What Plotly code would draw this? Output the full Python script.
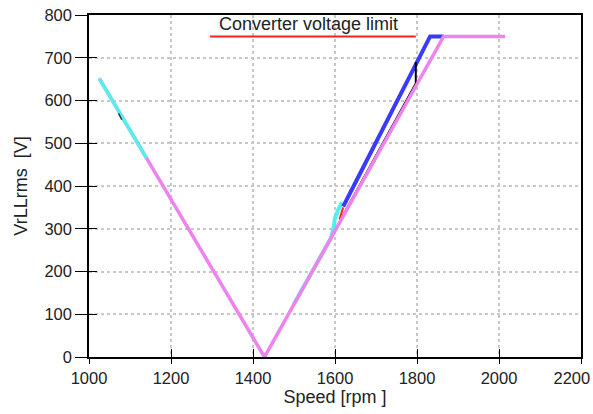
import plotly.graph_objects as go

# data (rpm, V)
mag_x = [1025, 1428, 1865, 2015]
mag_y = [652, 0, 750, 750]
blue_x = [1620, 1832, 1865]
blue_y = [352, 750, 750]
black_x = [1612, 1797, 1797]
black_y = [318, 640, 690]
black2_x = [1072, 1080]
black2_y = [570, 555]
cyan_x = [1025, 1140]
cyan_y = [652, 466]
cyan2_x = [1500, 1590, 1596, 1600, 1608, 1617]
cyan2_y = [124, 278, 300, 325, 345, 362]
red2_x = [1611, 1620]
red2_y = [322, 350]
limit_x = [1295, 1797]
limit_y = [750, 750]
limit_label = "Converter voltage limit"
x_range = [1000, 2200]
y_range = [0, 800]
x_ticks = [1000, 1200, 1400, 1600, 1800, 2000, 2200]
x_ticktext = ["1000", "1200", "1400", "1600", "1800", "2000", "2200\u2007\u2007"]

FONT = "Liberation Sans"
TXT = "#222"

fig = go.Figure()
# limit line drawn on the overlay axes (same ranges) so their inner ticks render
fig.add_trace(go.Scatter(x=limit_x, y=limit_y, mode="lines", xaxis="x2", yaxis="y2",
                         line=dict(color="#ff2020", width=2)))
fig.add_trace(go.Scatter(x=cyan2_x, y=cyan2_y, mode="lines", line=dict(color="#55eeee", width=4)))
fig.add_trace(go.Scatter(x=blue_x, y=blue_y, mode="lines", line=dict(color="#3a3aff", width=4)))
fig.add_trace(go.Scatter(x=red2_x, y=red2_y, mode="lines", line=dict(color="#ff2020", width=2)))
fig.add_trace(go.Scatter(x=black_x, y=black_y, mode="lines", line=dict(color="black", width=2)))
fig.add_trace(go.Scatter(x=mag_x, y=mag_y, mode="lines", line=dict(color="#ee82ee", width=3.5)))
fig.add_trace(go.Scatter(x=cyan_x, y=cyan_y, mode="lines", line=dict(color="#55eeee", width=3.5)))
fig.add_trace(go.Scatter(x=black2_x, y=black2_y, mode="lines", line=dict(color="#333", width=1.5)))

fig.add_annotation(x=(limit_x[0] + limit_x[1]) / 2 - 10, y=limit_y[0], yshift=12, text=limit_label,
                   showarrow=False, font=dict(size=18, color=TXT, family=FONT))

axis_common = dict(showline=True, linecolor="black", linewidth=1.5, mirror=True,
                   showgrid=True, gridcolor="#c8c8c8", griddash="dot", gridwidth=1.5,
                   zeroline=False, ticks="outside", tickcolor="black", tickwidth=1.2,
                   automargin=False,
                   tickfont=dict(size=16.5, color=TXT, family=FONT))

fig.update_layout(
    width=593, height=414, showlegend=False,
    margin=dict(l=89, r=12, t=15, b=57),
    paper_bgcolor="white", plot_bgcolor="white",
    xaxis=dict(range=x_range, tickvals=x_ticks, ticktext=x_ticktext, ticklen=5,
               ticklabelstandoff=0, ticklabeloverflow="allow",
               title=dict(text="Speed [rpm ]", standoff=2,
                          font=dict(size=18, color=TXT, family=FONT)), **axis_common),
    yaxis=dict(range=y_range, dtick=100, ticklen=12, ticklabelstandoff=0,
               title=dict(text="VrLLrms  [V]", standoff=12,
                          font=dict(size=18, color=TXT, family=FONT)), **axis_common),
    xaxis2=dict(range=x_range, tickvals=x_ticks, overlaying="x", anchor="y", side="bottom",
                showticklabels=False, showgrid=False, showline=False, zeroline=False,
                automargin=False, ticks="inside", ticklen=8, tickcolor="black", tickwidth=1.2),
    yaxis2=dict(range=y_range, dtick=100, overlaying="y", anchor="x", side="left",
                showticklabels=False, showgrid=False, showline=False, zeroline=False,
                automargin=False, ticks="inside", ticklen=8, tickcolor="black", tickwidth=1.2),
)
fig.write_html("out.html")
